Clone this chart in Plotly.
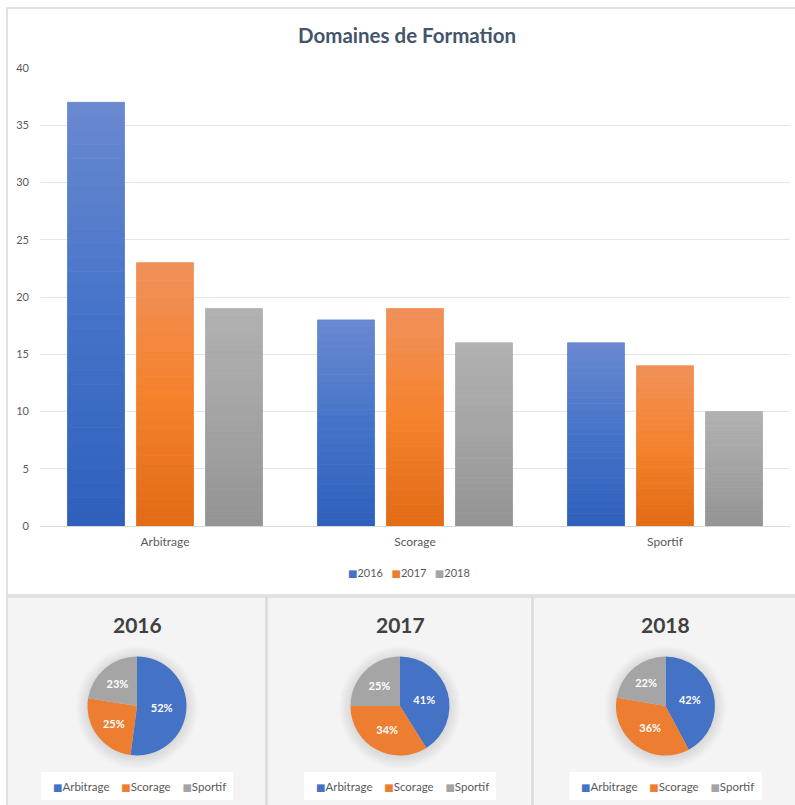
import plotly.graph_objects as go

# ---- data ----
categories = ["Arbitrage", "Scorage", "Sportif"]
years = ["2016", "2017", "2018"]
values_2016 = [37, 18, 16]
values_2017 = [23, 19, 14]
values_2018 = [19, 16, 10]
y_ticks = [0, 5, 10, 15, 20, 25, 30, 35, 40]

series = {"2016": values_2016, "2017": values_2017, "2018": values_2018}

# gradient stops (top, middle, bottom) per series
grad = {
    "2016": ["#6a89d0", "#4573c9", "#2e60bc"],
    "2017": ["#f0915a", "#f5822d", "#e26b15"],
    "2018": ["#b1b1b1", "#a4a4a4", "#939393"],
}
year_colors = ["#4472c4", "#ed7d31", "#a5a5a5"]
pie_colors = ["#4472c4", "#ed7d31", "#a5a5a5"]

W, H = 795, 805
FONT = "Lato, 'Open Sans', sans-serif"
TXT = "#595959"
NB = "\u00a0"


def hex2rgb(h):
    h = h.lstrip("#")
    return [int(h[i:i + 2], 16) for i in (0, 2, 4)]


def lerp(c1, c2, t):
    a, b = hex2rgb(c1), hex2rgb(c2)
    return "rgb(%d,%d,%d)" % tuple(round(a[i] + (b[i] - a[i]) * t) for i in range(3))


def grad_color(stops, t):  # t=0 bottom, t=1 top
    top, mid, bot = stops
    if t < 0.5:
        return lerp(bot, mid, t / 0.5)
    return lerp(mid, top, (t - 0.5) / 0.5)


def px(x):
    return x / W


def py(y):
    return 1 - y / H


def legend_text(names, colors, gap):
    parts = []
    for n, c in zip(names, colors):
        parts.append("<span style='color:%s;font-size:10px;font-family:DejaVu Sans'>■</span>%s" % (c, n))
    return (NB * gap).join(parts)


fig = go.Figure()

K = 30
for yr in years:
    vals = series[yr]
    for k in range(K):
        t = (k + 0.5) / K
        col = grad_color(grad[yr], t)
        fig.add_trace(go.Bar(
            x=categories,
            y=[v / K for v in vals],
            base=[v * k / K for v in vals],
            offsetgroup=yr,
            name=yr,
            legendgroup=yr,
            showlegend=False,
            marker=dict(color=col, line=dict(width=0.8, color=col)),
            hoverinfo="skip",
        ))

# ---- pies ----
pie_cx = [137, 400, 665.5]
pie_cy = 706
R = 49.5
for i, yr in enumerate(years):
    cx = pie_cx[i]
    fig.add_trace(go.Pie(
        labels=categories,
        values=series[yr],
        name=yr,
        sort=False,
        direction="clockwise",
        rotation=0,
        marker=dict(colors=pie_colors, line=dict(width=0)),
        textinfo="percent",
        texttemplate="%{percent:.0%}",
        textposition="inside",
        insidetextorientation="horizontal",
        textfont=dict(color="white", size=11, family=FONT, weight="bold"),
        domain=dict(x=[px(cx - R), px(cx + R)], y=[py(pie_cy + R), py(pie_cy - R)]),
        showlegend=False,
        hoverinfo="skip",
    ))

shapes = []
# top panel border
shapes.append(dict(type="rect", xref="paper", yref="paper", x0=px(7), x1=px(800), y0=py(595), y1=py(8),
                   line=dict(color="#d9d9d9", width=1.5), fillcolor="white", layer="below"))
# pie panels
panel_x = [(7, 266), (267, 532), (533, 800)]
for x0, x1 in panel_x:
    shapes.append(dict(type="rect", xref="paper", yref="paper", x0=px(x0), x1=px(x1), y0=py(810), y1=py(597),
                       line=dict(color="#d9d9d9", width=1.5), fillcolor="#f4f4f4", layer="below"))
# soft shadows under pies
for cx in pie_cx:
    for j in range(10):
        r = 48.5 + j * 1.4
        shapes.append(dict(type="circle", xref="paper", yref="paper",
                           x0=px(cx - r), x1=px(cx + r), y0=py(pie_cy + r + 1.5), y1=py(pie_cy - r + 1.5),
                           fillcolor="rgba(0,0,0,0.013)", line=dict(width=0), layer="below"))
# pie legend white boxes
for cx in pie_cx:
    shapes.append(dict(type="rect", xref="paper", yref="paper", x0=px(cx - 96), x1=px(cx + 96),
                       y0=py(800), y1=py(772), fillcolor="white", line=dict(width=0), layer="below"))

annotations = [
    dict(text="<b>Domaines de Formation</b>", x=px(407), y=py(35), xref="paper", yref="paper",
         showarrow=False, font=dict(size=20.5, color="#44546a", family=FONT), xanchor="center", yanchor="middle"),
    # bar legend
    dict(text=legend_text(years, year_colors, 3), x=px(409), y=py(572), xref="paper", yref="paper",
         showarrow=False, font=dict(size=11, color=TXT, family=FONT), xanchor="center", yanchor="middle"),
]
for i, yr in enumerate(years):
    annotations.append(dict(text="<b>%s</b>" % yr, x=px(pie_cx[i]), y=py(624), xref="paper", yref="paper",
                            showarrow=False, font=dict(size=21, color="#404040", family=FONT),
                            xanchor="center", yanchor="middle"))
    annotations.append(dict(text=legend_text(categories, pie_colors, 4), x=px(pie_cx[i] + 2), y=py(786),
                            xref="paper", yref="paper", showarrow=False,
                            font=dict(size=11.5, color=TXT, family=FONT), xanchor="center", yanchor="middle"))

fig.update_layout(
    width=W, height=H,
    margin=dict(l=0, r=0, t=0, b=0, autoexpand=False),
    paper_bgcolor="white",
    plot_bgcolor="rgba(0,0,0,0)",
    font=dict(family=FONT, color=TXT, size=11),
    barmode="group",
    bargap=0.172,
    bargroupgap=0.174,
    xaxis=dict(domain=[px(40), px(790)], tickfont=dict(size=12, color=TXT), showgrid=False,
               showline=True, linecolor="#d9d9d9", linewidth=1, ticks="", fixedrange=True,
               ticklabelstandoff=5),
    yaxis=dict(domain=[py(526), py(68)], range=[0, 40], tickvals=y_ticks, showgrid=True,
               gridcolor="#e1e5ec", gridwidth=1, zeroline=False, showline=False,
               tickfont=dict(size=11, color=TXT), ticklabelstandoff=10, fixedrange=True),
    shapes=shapes,
    annotations=annotations,
    showlegend=False,
)

fig.write_html("out.html", config={"displayModeBar": False},
               post_script="document.body.style.margin='0';document.body.style.overflow='hidden';")
